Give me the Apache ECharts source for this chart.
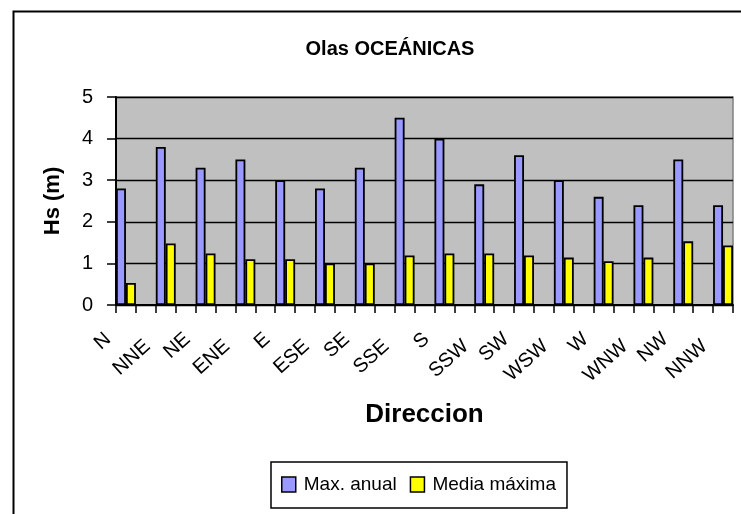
<!DOCTYPE html>
<html>
<head>
<meta charset="utf-8">
<script src="https://cdn.jsdelivr.net/npm/echarts@6/dist/echarts.min.js"></script>
<style>
  html, body { margin: 0; padding: 0; background: #fff; }
  #chart { width: 741px; height: 514px; }
</style>
</head>
<body>
<div id="chart"></div>
<script>
// Wave heights by direction
var directions = ['N', 'NNE', 'NE', 'ENE', 'E', 'ESE', 'SE', 'SSE', 'S', 'SSW', 'SW', 'WSW', 'W', 'WNW', 'NW', 'NNW'];
var maxAnual = [2.8, 3.8, 3.3, 3.5, 3.0, 2.8, 3.3, 4.5, 4.0, 2.9, 3.6, 3.0, 2.6, 2.4, 3.5, 2.4];
var mediaMaxima = [0.53, 1.48, 1.24, 1.1, 1.1, 1.0, 1.0, 1.19, 1.24, 1.24, 1.19, 1.14, 1.05, 1.14, 1.53, 1.43];
var yTicks = [0, 1, 2, 3, 4, 5];

var SANS = '"Liberation Sans", Arial, sans-serif';

// Each direction is followed by an empty slot, leaving a gap between bar pairs
var cats = [], s1 = [], s2 = [];
directions.forEach(function (d, i) {
  cats.push(d); s1.push(maxAnual[i]); s2.push(mediaMaxima[i]);
  if (i < directions.length - 1) { cats.push(''); s1.push(null); s2.push(null); }
});

var chart = echarts.init(document.getElementById('chart'), null, { renderer: 'canvas' });
chart.setOption({
  animation: false,
  backgroundColor: '#ffffff',
  title: {
    text: 'Olas OCEÁNICAS',
    left: 385, top: 34, textAlign: 'center',
    textStyle: { fontFamily: SANS, fontWeight: 'bold', fontSize: 20, color: '#000' }
  },
  graphic: [{
    type: 'rect', left: 11, top: 9, z: 100,
    shape: { width: 760, height: 530 },
    style: { fill: 'none', stroke: '#000', lineWidth: 2 }
  }],
  legend: {
    left: 271, top: 462,
    padding: [13, 11, 14, 10],
    itemGap: 13, itemWidth: 14, itemHeight: 15,
    borderColor: '#000', borderWidth: 1.5,
    icon: 'rect',
    itemStyle: { borderColor: '#000', borderWidth: 1.5 },
    textStyle: { fontFamily: SANS, fontSize: 19, color: '#000', padding: [0, 0, 0, 3] },
    data: ['Max. anual', 'Media máxima']
  },
  grid: {
    left: 116, right: 8, top: 97, bottom: 209,
    show: true, backgroundColor: '#c0c0c0', borderColor: '#808080', borderWidth: 1.5
  },
  xAxis: {
    type: 'category',
    data: cats,
    boundaryGap: true,
    name: 'Direccion', nameLocation: 'middle', nameGap: 97,
    nameTextStyle: { fontFamily: SANS, fontWeight: 'bold', fontSize: 26, color: '#000' },
    axisLine: { lineStyle: { color: '#000', width: 2 } },
    axisTick: { show: true, interval: 0, length: 8, lineStyle: { color: '#000', width: 1.5 } },
    axisLabel: {
      interval: 0, rotate: 42, margin: 32,
      fontFamily: SANS, fontSize: 20, color: '#000',
      formatter: function (v, idx) {
        if (!v) return '';
        return ((idx / 2) % 2 === 0 ? '{e|' : '{o|') + v + '}';
      },
      rich: {
        e: { fontFamily: SANS, fontSize: 20, color: '#000', padding: [0, 13, 25, 0] },
        o: { fontFamily: SANS, fontSize: 20, color: '#000', padding: [0, 18, 15, 0] }
      }
    },
    splitLine: { show: false }
  },
  yAxis: {
    type: 'value',
    min: yTicks[0], max: yTicks[yTicks.length - 1], interval: 1,
    name: 'Hs (m)', nameLocation: 'middle', nameGap: 52, nameRotate: 90,
    nameTextStyle: { fontFamily: SANS, fontWeight: 'bold', fontSize: 22, color: '#000' },
    axisLine: { show: true, lineStyle: { color: '#000', width: 2 } },
    axisTick: { show: true, length: 9, lineStyle: { color: '#000', width: 1.5 } },
    axisLabel: { margin: 23, fontFamily: SANS, fontSize: 20, color: '#000' },
    splitLine: { show: true, lineStyle: { color: '#000', width: 1.3 } }
  },
  series: [{
    name: 'Max. anual', type: 'bar', data: s1,
    barGap: '0%', barCategoryGap: '0%',
    itemStyle: { color: '#9999ff', borderColor: '#000', borderWidth: 1.8 }
  }, {
    name: 'Media máxima', type: 'bar', data: s2,
    barGap: '0%', barCategoryGap: '0%',
    itemStyle: { color: '#ffff00', borderColor: '#000', borderWidth: 1.8 }
  }]
});
</script>
</body>
</html>
